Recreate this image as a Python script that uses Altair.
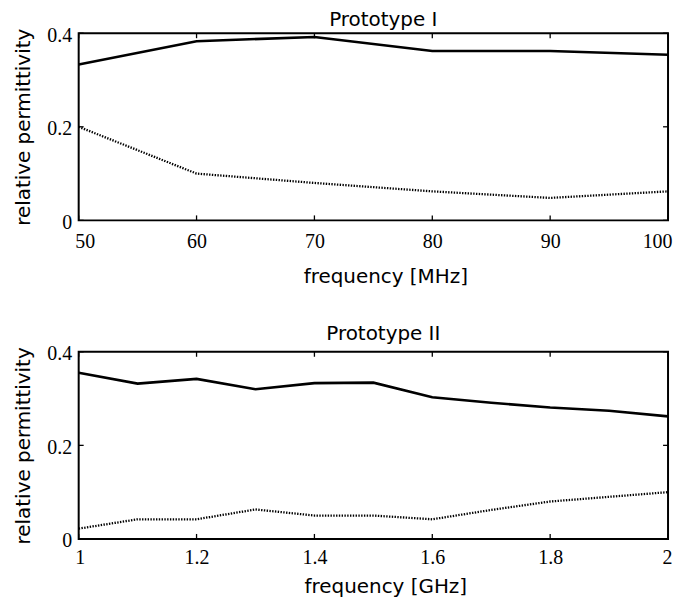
import altair as alt
import pandas as pd

# ---- data ----
top_freq = [50, 60, 70, 80, 90, 100]
top_real = [0.333, 0.383, 0.392, 0.362, 0.362, 0.354]
top_imag = [0.200, 0.100, 0.080, 0.062, 0.048, 0.062]

bot_freq = [1.0, 1.1, 1.2, 1.3, 1.4, 1.5, 1.6, 1.7, 1.8, 1.9, 2.0]
bot_real = [0.355, 0.332, 0.342, 0.320, 0.333, 0.334, 0.303, 0.291, 0.281, 0.274, 0.262]
bot_imag = [0.022, 0.042, 0.042, 0.063, 0.050, 0.050, 0.042, 0.062, 0.080, 0.090, 0.100]

top_xticks = [50, 60, 70, 80, 90, 100]
bot_xticks = [1.0, 1.2, 1.4, 1.6, 1.8, 2.0]
y_ticks = [0, 0.2, 0.4]

titles = ["Prototype I", "Prototype II"]
xtitles = ["frequency [MHz]", "frequency [GHz]"]
ytitle = "relative permittivity"

W, H = 592, 188
TICK = 5
LBL = "format(datum.value, '~f')"


def panel(freq, real, imag, xticks, xtitle, title, lpad, tpad, toff):
    n = len(freq)
    df = pd.DataFrame({"f": freq + freq, "v": real + imag,
                       "s": ["real"] * n + ["imag"] * n})
    xscale = alt.Scale(domain=[xticks[0], xticks[-1]], nice=False, zero=False)
    yscale = alt.Scale(domain=[y_ticks[0], y_ticks[-1]], nice=False, zero=False)
    xaxis = alt.Axis(values=xticks, labelExpr=LBL, title=xtitle, ticks=False,
                     domain=False, grid=False, labelPadding=lpad, titlePadding=tpad,
                     titleX=W / 2 + 12, labelFlush=True, labelFlushOffset=4)
    yaxis = alt.Axis(values=y_ticks, labelExpr=LBL, title=ytitle, ticks=False,
                     domain=False, grid=False, labelPadding=7, titlePadding=13,
                     labelOffset=2, labelFlush=False)
    X = alt.X("f:Q", scale=xscale, axis=xaxis)
    Y = alt.Y("v:Q", scale=yscale, axis=yaxis)

    solid = alt.Chart(df).transform_filter(alt.datum.s == "real").mark_line(
        color="black", strokeWidth=2.6).encode(x=X, y=Y)
    dotted = alt.Chart(df).transform_filter(alt.datum.s == "imag").mark_line(
        color="black", strokeWidth=2.3, strokeDash=[1.4, 1.4]).encode(x=X, y=Y)

    xt = pd.DataFrame({"f": xticks})
    yt = pd.DataFrame({"v": y_ticks})
    tb = alt.Chart(xt).mark_rule(color="black", strokeWidth=1.3).encode(
        x=X, y=alt.value(H), y2=alt.value(H - TICK))
    tt = alt.Chart(xt).mark_rule(color="black", strokeWidth=1.3).encode(
        x=X, y=alt.value(0), y2=alt.value(TICK))
    tl = alt.Chart(yt).mark_rule(color="black", strokeWidth=1.3).encode(
        y=Y, x=alt.value(0), x2=alt.value(TICK))
    tr = alt.Chart(yt).mark_rule(color="black", strokeWidth=1.3).encode(
        y=Y, x=alt.value(W - TICK), x2=alt.value(W))

    return alt.layer(solid, dotted, tb, tt, tl, tr).properties(
        width=W, height=H,
        title=alt.TitleParams(title, anchor="middle", dx=10, offset=toff),
    )


p1 = panel(top_freq, top_real, top_imag, top_xticks, xtitles[0], titles[0],
           lpad=11, tpad=15, toff=-5)
p2 = panel(bot_freq, bot_real, bot_imag, bot_xticks, xtitles[1], titles[1],
           lpad=9, tpad=9, toff=0)

chart = alt.vconcat(p1, p2, spacing=36).properties(
    padding={"left": 5, "top": 0, "right": 0, "bottom": 0},
    background="white",
).configure_view(
    stroke="black", strokeWidth=2
).configure_axis(
    labelFont="Liberation Serif", labelFontSize=20, labelColor="black",
    titleFont="DejaVu Sans", titleFontSize=20, titleFontWeight="normal",
    titleColor="black"
).configure_title(
    font="DejaVu Sans", fontSize=20, fontWeight="normal", color="black"
)

chart.save("out.html", embed_options={"renderer": "svg", "actions": False})
